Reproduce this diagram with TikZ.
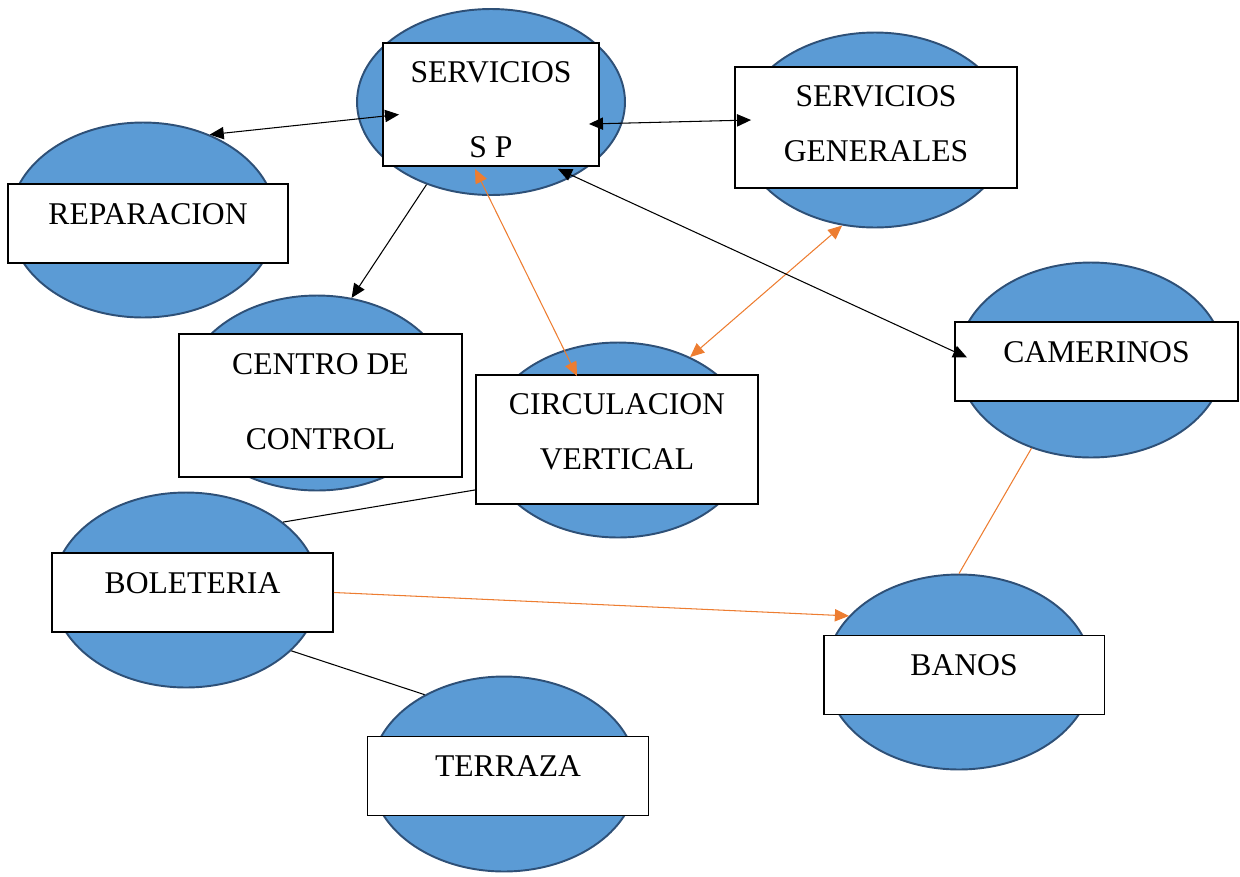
\documentclass[tikz,border=0pt]{standalone}
\usepackage{fontspec}
\setmainfont{Liberation Serif}
\usetikzlibrary{arrows.meta, shapes.geometric}
\definecolor{ovalfill}{HTML}{5B9BD5}
\definecolor{ovalline}{HTML}{2E5077}
\definecolor{linkorange}{HTML}{ED7D31}

\begin{document}
\begin{tikzpicture}[
    x=0.02cm, y=-0.02cm,
    oval/.style={ellipse, draw=ovalline, fill=ovalfill, line width=1.1pt, minimum width=5.32cm, minimum height=3.9cm},
    box/.style={rectangle, draw, fill=white, line width=1.1pt, align=center, inner sep=0pt, font=\fontsize{18}{21.6}\selectfont},
    single/.style={box, minimum width=5.62cm, minimum height=1.58cm, text height=0.7em, text depth=0.6em},
    oneway/.style={-{Triangle[length=8pt, width=7pt]}, line width=0.6pt},
    twoway/.style={{Triangle[length=8pt, width=7pt]}-{Triangle[length=8pt, width=7pt]}, line width=0.6pt},
    link/.style={line width=0.6pt},
]
\useasboundingbox (0,0) rectangle (1240,876);
\node[oval, minimum width=5.36cm, minimum height=3.72cm] (oservicios) at (491,102) {};
\node[oval, minimum width=5.4cm] (ogenerales) at (875,130) {};
\node[oval] (oreparacion) at (143,220) {};
\node[oval] (ocontrol) at (317,393) {};
\node[oval] (ocirculacion) at (618,440) {};
\node[oval] (ocamerinos) at (1091,360) {};
\node[oval] (oboleteria) at (186,590) {};
\node[oval] (obanos) at (959,672) {};
\node[oval] (oterraza) at (504,774) {};
\node[box, minimum width=4.32cm, minimum height=2.46cm] (servicios) at (491,104.5) {\rule{0pt}{18pt}SERVICIOS\\[21pt]S P};
\node[box, minimum width=5.64cm, minimum height=2.42cm, text depth=4.3pt] (generales) at (876,127.5) {SERVICIOS\\[9.6pt]GENERALES};
\node[single, minimum width=5.6cm] (reparacion) at (148,223.5) {REPARACION};
\node[box, minimum width=5.66cm, minimum height=2.86cm, text depth=4.3pt] (control) at (320.5,405.5) {CENTRO DE\\[21pt]CONTROL};
\node[box, minimum width=5.64cm, minimum height=2.58cm, text depth=8.8pt] (circulacion) at (617,439.5) {CIRCULACION\\[9.6pt]VERTICAL};
\node[single, minimum width=5.66cm] (camerinos) at (1096.5,361.5) {CAMERINOS};
\node[single] (boleteria) at (192.5,592.5) {BOLETERIA};
\node[single] (banos) at (964,675) {BANOS};
\node[single] (terraza) at (508,776) {TERRAZA};
\draw[twoway] (oreparacion.52) -- ([shift={(17,10)}]servicios.west);
\draw[twoway] ([shift={(-11,19.5)}]servicios.east) -- ([shift={(17,-7.5)}]generales.west);
\draw[oneway] (oservicios.-128) -- (ocontrol.70);
\draw[twoway, linkorange] ([shift={(-16,2)}]servicios.south) -- ([shift={(-40,2)}]circulacion.north);
\draw[twoway, linkorange] (ogenerales.-109) -- (ocirculacion.49);
\draw[twoway] ([shift={(-42,2)}]servicios.south east) -- ([shift={(13,-4)}]camerinos.west);
\draw[link] ([shift={(0,-15)}]circulacion.south west) -- (oboleteria.35);
\draw[oneway, linkorange] (boleteria.east) -- (obanos.153);
\draw[link] (oboleteria.-30) -- (oterraza.135);
\draw[link, linkorange] (ocamerinos.-124) -- (obanos.north);
\end{tikzpicture}
\end{document}
